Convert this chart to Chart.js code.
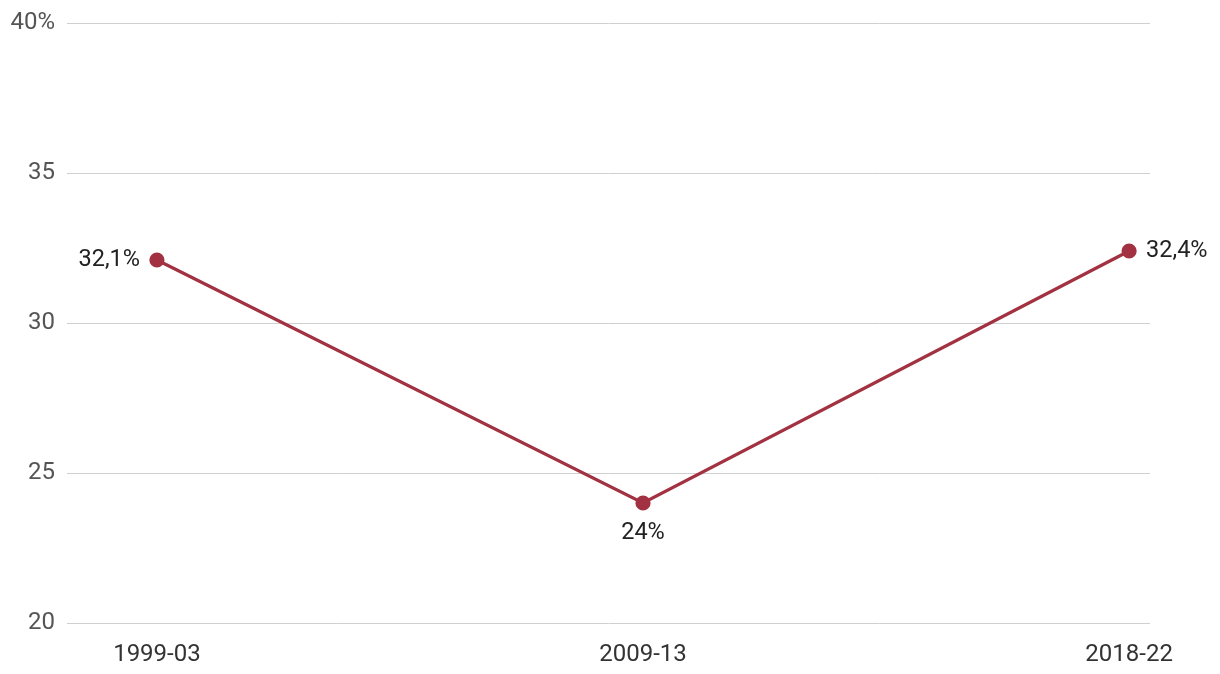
<!DOCTYPE html>
<html>
<head>
<meta charset="utf-8">
<script src="https://cdn.jsdelivr.net/npm/chart.js@4/dist/chart.umd.min.js"></script>
<style>
  html, body { margin: 0; padding: 0; background: #fff; }
  #wrap { width: 1220px; height: 674px; }
</style>
</head>
<body>
<div id="wrap"><canvas id="chart"></canvas></div>
<script>
const periods = ['1999-03', '2009-13', '2018-22'];
const shares = [32.1, 24, 32.4];
const valueLabels = ['32,1%', '24%', '32,4%'];
const labelSides = ['left', 'below', 'right'];

const lineColor = '#a23241';

// simple labels next to the points
const pointLabels = {
  id: 'pointLabels',
  afterDatasetsDraw(chart) {
    const ctx = chart.ctx;
    const meta = chart.getDatasetMeta(0);
    ctx.save();
    ctx.font = '23.5px Roboto';
    ctx.fillStyle = '#222';
    meta.data.forEach((pt, i) => {
      const side = labelSides[i];
      if (side === 'left') {
        ctx.textAlign = 'right';
        ctx.textBaseline = 'middle';
        ctx.fillText(valueLabels[i], pt.x - 17, pt.y);
      } else if (side === 'right') {
        ctx.textAlign = 'left';
        ctx.textBaseline = 'middle';
        ctx.fillText(valueLabels[i], pt.x + 17, pt.y);
      } else {
        ctx.textAlign = 'center';
        ctx.textBaseline = 'middle';
        ctx.fillText(valueLabels[i], pt.x, pt.y + 30);
      }
    });
    ctx.restore();
  }
};

new Chart(document.getElementById('chart'), {
  type: 'line',
  data: {
    datasets: [{
      data: shares.map((v, i) => ({ x: i, y: v })),
      borderColor: lineColor,
      backgroundColor: lineColor,
      borderWidth: 3.2,
      pointRadius: 6,
      pointHoverRadius: 6,
      tension: 0
    }]
  },
  options: {
    responsive: true,
    maintainAspectRatio: false,
    animation: false,
    layout: { padding: { top: 23, right: 70, left: 0, bottom: 0 } },
    plugins: { legend: { display: false }, tooltip: { enabled: false } },
    scales: {
      x: {
        type: 'linear',
        min: -0.185,
        max: 2.043,
        afterBuildTicks: (scale) => { scale.ticks = periods.map((p, i) => ({ value: i })); },
        afterFit: (scale) => { scale.height = 51; scale.paddingLeft = 0; scale.paddingRight = 0; },
        grid: { display: false },
        border: { display: false },
        ticks: {
          callback: (v) => periods[v],
          color: '#333',
          font: { family: 'Roboto', size: 24 },
          padding: 10,
          maxRotation: 0
        }
      },
      y: {
        min: 20,
        max: 40,
        afterFit: (scale) => { scale.width = 67; scale.paddingTop = 0; scale.paddingBottom = 0; },
        grid: { color: '#d0d0d0', lineWidth: 1, drawTicks: false },
        border: { display: false },
        ticks: {
          stepSize: 5,
          callback: (v) => v === 40 ? '40%' : String(v),
          color: '#555',
          font: { family: 'Roboto', size: 24 },
          padding: 12
        }
      }
    }
  },
  plugins: [pointLabels]
});
</script>
</body>
</html>
